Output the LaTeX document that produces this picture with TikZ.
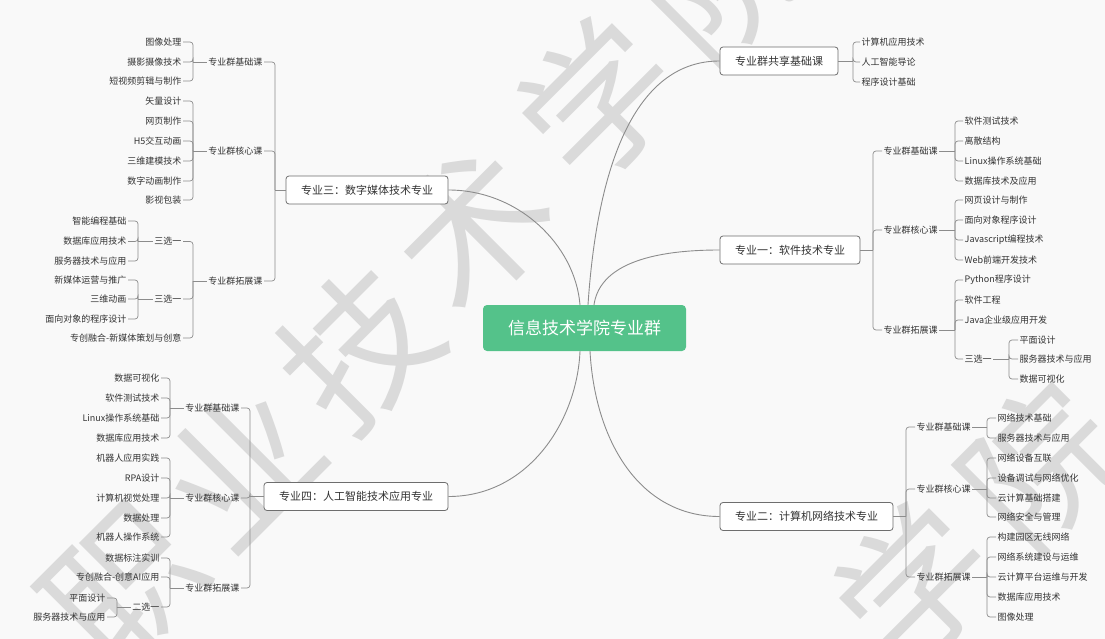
\documentclass[tikz,border=0pt]{standalone}
\usepackage{fontspec}
\setmainfont{Noto Sans CJK SC}
\definecolor{hubgreen}{RGB}{84,194,138}
\definecolor{linegray}{RGB}{140,140,140}
\definecolor{boxgray}{RGB}{110,110,110}
\definecolor{textgray}{RGB}{51,51,51}
\definecolor{paper}{RGB}{249,249,249}
\definecolor{markgray}{RGB}{218,218,218}

\begin{document}
\begin{tikzpicture}[
  x=1pt, y=-1pt,
  hubbox/.style={fill=hubgreen, text=white, rounded corners=4pt, minimum width=203pt, minimum height=46pt, font=\fontsize{17}{20}\selectfont},
  majorbox/.style={draw=boxgray, fill=white, rounded corners=3pt, line width=0.8pt, text=textgray, minimum height=28pt, font=\fontsize{11}{13}\selectfont},
  subhead/.style={text=textgray, inner sep=1.5pt, font=\fontsize{9}{11}\selectfont},
  leafR/.style={subhead, anchor=west},
  leafL/.style={subhead, anchor=east},
  linkline/.style={draw=linegray, line width=0.7pt, rounded corners=3pt},
  curveline/.style={draw=linegray, line width=0.9pt},
  wmtext/.style={text=markgray, rotate=45, inner sep=0pt, font=\fontsize{150}{150}\selectfont}
]
\path[use as bounding box, fill=paper] (0,0) rectangle (1105,639);
\clip (0,0) rectangle (1105,639);

% watermark
\foreach \c/\x/\y [count=\i] in {职/125/585, 业/240/465, 技/358/348, 术/472/228, 学/598/100, 院/720/-20, 学/915/585, 院/1040/465}
  \node[wmtext] (wm\i) at (\x,\y) {\c};

% hub and the five branches
\node[hubbox] (hub) at (584.5,328) {信息技术学院专业群};
\node[majorbox, minimum width=118pt] (share) at (779,61) {专业群共享基础课};
\node[majorbox, minimum width=140pt] (m1) at (790,250) {专业一：软件技术专业};
\node[majorbox, minimum width=173pt] (m2) at (806.5,516.5) {专业二：计算机网络技术专业};
\node[majorbox, minimum width=162pt] (m3) at (367,190) {专业三：数字媒体技术专业};
\node[majorbox, minimum width=184pt] (m4) at (356,496.5) {专业四：人工智能技术应用专业};

\draw[curveline] ([xshift=3.5pt]hub.north) .. controls +(10,-150) and +(-80,0) .. (share.west);
\draw[curveline] ([xshift=9.5pt]hub.north) .. controls +(5,-35) and +(-80,0) .. (m1.west);
\draw[curveline] ([xshift=-4.5pt]hub.north) .. controls +(-5,-60) and +(70,0) .. (m3.east);
\draw[curveline] ([xshift=-4.5pt]hub.south) .. controls +(-3,70) and +(80,0) .. (m4.east);
\draw[curveline] ([xshift=5.5pt]hub.south) .. controls +(5,90) and +(-80,0) .. (m2.west);

% shared courses
\coordinate (jshare) at (853,61);
\draw[linkline] (share.east) -- (jshare);
\foreach \t/\y [count=\i] in {计算机应用技术/42, 人工智能导论/62, 程序设计基础/82}{
  \node[leafR] (share\i) at (860,\y) {\t};
  \draw[linkline] (jshare) |- (share\i.west);
}

% major one
\coordinate (j1) at (873,250);
\draw[linkline] (m1.east) -- (j1);
\node[leafR] (m1a) at (882,151) {专业群基础课};
\node[leafR] (m1b) at (882,230) {专业群核心课};
\node[leafR] (m1c) at (882,330) {专业群拓展课};
\foreach \s in {m1a,m1b,m1c} \draw[linkline] (j1) |- (\s.west);
\coordinate (j1a) at (955,151);
\draw[linkline] (m1a.east) -- (j1a);
\foreach \t/\y [count=\i] in {软件测试技术/121, 离散结构/141, Linux操作系统基础/161, 数据库技术及应用/181}{
  \node[leafR] (m1a\i) at (963,\y) {\t};
  \draw[linkline] (j1a) |- (m1a\i.west);
}
\coordinate (j1b) at (955,230);
\draw[linkline] (m1b.east) -- (j1b);
\foreach \t/\y [count=\i] in {网页设计与制作/200, 面向对象程序设计/220, Javascript编程技术/240, Web前端开发技术/260}{
  \node[leafR] (m1b\i) at (963,\y) {\t};
  \draw[linkline] (j1b) |- (m1b\i.west);
}
\coordinate (j1c) at (955,330);
\draw[linkline] (m1c.east) -- (j1c);
\foreach \t/\y [count=\i] in {Python程序设计/280, 软件工程/300, Java企业级应用开发/320, 三选一/359}{
  \node[leafR] (m1c\i) at (963,\y) {\t};
  \draw[linkline] (j1c) |- (m1c\i.west);
}
\coordinate (j1x) at (1009,359);
\draw[linkline] (m1c4.east) -- (j1x);
\foreach \t/\y [count=\i] in {平面设计/340, 服务器技术与应用/359, 数据可视化/379}{
  \node[leafR] (m1x\i) at (1018,\y) {\t};
  \draw[linkline] (j1x) |- (m1x\i.west);
}

% major two
\coordinate (j2) at (906,516.5);
\draw[linkline] (m2.east) -- (j2);
\node[leafR] (m2a) at (915,427) {专业群基础课};
\node[leafR] (m2b) at (915,489) {专业群核心课};
\node[leafR] (m2c) at (915,577) {专业群拓展课};
\foreach \s in {m2a,m2b,m2c} \draw[linkline] (j2) |- (\s.west);
\coordinate (j2a) at (987,427);
\draw[linkline] (m2a.east) -- (j2a);
\foreach \t/\y [count=\i] in {网络技术基础/418, 服务器技术与应用/438}{
  \node[leafR] (m2a\i) at (996,\y) {\t};
  \draw[linkline] (j2a) |- (m2a\i.west);
}
\coordinate (j2b) at (987,489);
\draw[linkline] (m2b.east) -- (j2b);
\foreach \t/\y [count=\i] in {网络设备互联/458, 设备调试与网络优化/478, 云计算基础搭建/498, 网络安全与管理/517}{
  \node[leafR] (m2b\i) at (996,\y) {\t};
  \draw[linkline] (j2b) |- (m2b\i.west);
}
\coordinate (j2c) at (987,577);
\draw[linkline] (m2c.east) -- (j2c);
\foreach \t/\y [count=\i] in {构建园区无线网络/537, 网络系统建设与运维/557, 云计算平台运维与开发/577, 数据库应用技术/597, 图像处理/617}{
  \node[leafR] (m2c\i) at (996,\y) {\t};
  \draw[linkline] (j2c) |- (m2c\i.west);
}

% major three
\coordinate (j3) at (275,190);
\draw[linkline] (m3.west) -- (j3);
\node[leafL] (m3a) at (264,62) {专业群基础课};
\node[leafL] (m3b) at (264,151) {专业群核心课};
\node[leafL] (m3c) at (264,281) {专业群拓展课};
\foreach \s in {m3a,m3b,m3c} \draw[linkline] (j3) |- (\s.east);
\coordinate (j3a) at (193,62);
\draw[linkline] (m3a.west) -- (j3a);
\foreach \t/\y [count=\i] in {图像处理/42, 摄影摄像技术/62, 短视频剪辑与制作/81}{
  \node[leafL] (m3a\i) at (183,\y) {\t};
  \draw[linkline] (j3a) |- (m3a\i.east);
}
\coordinate (j3b) at (193,151);
\draw[linkline] (m3b.west) -- (j3b);
\foreach \t/\y [count=\i] in {矢量设计/101, 网页制作/121, H5交互动画/141, 三维建模技术/161, 数字动画制作/181, 影视包装/200}{
  \node[leafL] (m3b\i) at (183,\y) {\t};
  \draw[linkline] (j3b) |- (m3b\i.east);
}
\coordinate (j3c) at (193,281);
\draw[linkline] (m3c.west) -- (j3c);
\foreach \t/\y [count=\i] in {三选一/241.5, 三选一/299, 专创融合-新媒体策划与创意/338}{
  \node[leafL] (m3c\i) at (183,\y) {\t};
  \draw[linkline] (j3c) |- (m3c\i.east);
}
\coordinate (j3x) at (138,241.5);
\draw[linkline] (m3c1.west) -- (j3x);
\foreach \t/\y [count=\i] in {智能编程基础/221, 数据库应用技术/241.5, 服务器技术与应用/261}{
  \node[leafL] (m3x\i) at (128,\y) {\t};
  \draw[linkline] (j3x) |- (m3x\i.east);
}
\coordinate (j3y) at (138,299);
\draw[linkline] (m3c2.west) -- (j3y);
\foreach \t/\y [count=\i] in {新媒体运营与推广/280, 三维动画/299, 面向对象的程序设计/319}{
  \node[leafL] (m3y\i) at (128,\y) {\t};
  \draw[linkline] (j3y) |- (m3y\i.east);
}

% major four
\coordinate (j4) at (250,496.5);
\draw[linkline] (m4.west) -- (j4);
\node[leafL] (m4a) at (241,408) {专业群基础课};
\node[leafL] (m4b) at (241,498) {专业群核心课};
\node[leafL] (m4c) at (241,588) {专业群拓展课};
\foreach \s in {m4a,m4b,m4c} \draw[linkline] (j4) |- (\s.east);
\coordinate (j4a) at (170,408);
\draw[linkline] (m4a.west) -- (j4a);
\foreach \t/\y [count=\i] in {数据可视化/378, 软件测试技术/398, Linux操作系统基础/418, 数据库应用技术/438}{
  \node[leafL] (m4a\i) at (161,\y) {\t};
  \draw[linkline] (j4a) |- (m4a\i.east);
}
\coordinate (j4b) at (170,498);
\draw[linkline] (m4b.west) -- (j4b);
\foreach \t/\y [count=\i] in {机器人应用实践/458, RPA设计/478, 计算机视觉处理/498, 数据处理/518, 机器人操作系统/537}{
  \node[leafL] (m4b\i) at (161,\y) {\t};
  \draw[linkline] (j4b) |- (m4b\i.east);
}
\coordinate (j4c) at (170,588);
\draw[linkline] (m4c.west) -- (j4c);
\foreach \t/\y [count=\i] in {数据标注实训/558, 专创融合-创意AI应用/577, 二选一/607}{
  \node[leafL] (m4c\i) at (161,\y) {\t};
  \draw[linkline] (j4c) |- (m4c\i.east);
}
\coordinate (j4x) at (117,607);
\draw[linkline] (m4c3.west) -- (j4x);
\foreach \t/\y [count=\i] in {平面设计/598, 服务器技术与应用/617}{
  \node[leafL] (m4x\i) at (107,\y) {\t};
  \draw[linkline] (j4x) |- (m4x\i.east);
}
\end{tikzpicture}
\end{document}
